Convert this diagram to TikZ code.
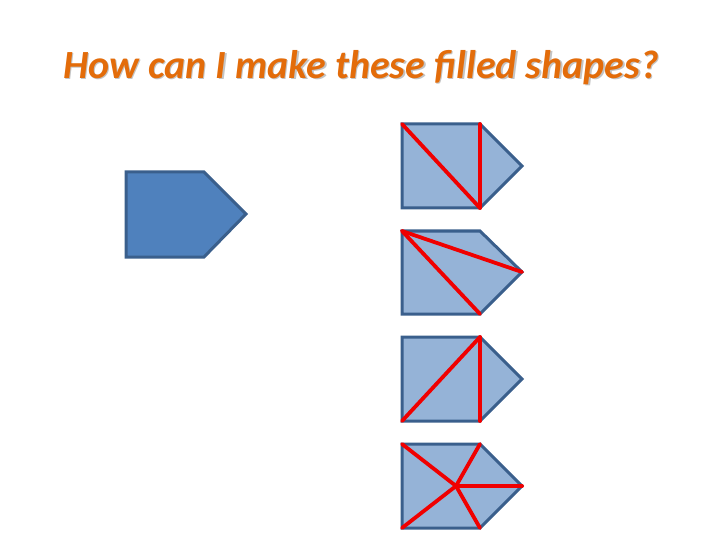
\documentclass[tikz,border=0pt]{standalone}
\usepackage{fontspec}
\setmainfont{Carlito}
\definecolor{titleorange}{HTML}{E36C0A}
\definecolor{shadowgray}{HTML}{C4C4C4}
\definecolor{darkblue}{HTML}{4F81BD}
\definecolor{lightblue}{HTML}{95B3D7}
\definecolor{edgeblue}{HTML}{3A5F8C}
\definecolor{cutred}{HTML}{F00000}
\newcommand{\titletext}{How can I make these filled shapes?}
\begin{document}
\begin{tikzpicture}[x=1pt,y=-1pt,
  darkpent/.style={fill=darkblue,draw=edgeblue,line width=3pt,line join=miter},
  lightpent/.style={fill=lightblue,draw=edgeblue,line width=3pt,line join=miter},
  cut/.style={draw=cutred,line width=3.8pt,line cap=round}]
\useasboundingbox (0,0) rectangle (720,540);
% title with shadow
\node[text=titleorange,font=\fontsize{40}{44}\selectfont\bfseries\itshape] (title) at (361,68)
  {\makebox[0pt][l]{\kern1.6pt\raisebox{-1.6pt}{\color{shadowgray}\titletext}}\titletext};
% left pentagon
\draw[darkpent] (126,172) -- (204,172) -- (246,214) -- (204,257) -- (126,257) -- cycle;
% right pentagons
\foreach \n/\t/\m/\b in {1/124/166/208, 2/231/272/314, 3/337/379/421, 4/444/486/528}{
  \coordinate (tl\n) at (402,\t);
  \coordinate (tc\n) at (480,\t);
  \coordinate (tip\n) at (522,\m);
  \coordinate (bc\n) at (480,\b);
  \coordinate (bl\n) at (402,\b);
  \draw[lightpent] (tl\n) -- (tc\n) -- (tip\n) -- (bc\n) -- (bl\n) -- cycle;
}
% cuts
\draw[cut] (tl1) -- (bc1);
\draw[cut] (tc1) -- (bc1);
\draw[cut] (tl2) -- (tip2);
\draw[cut] (tl2) -- (bc2);
\draw[cut] (bl3) -- (tc3);
\draw[cut] (tc3) -- (bc3);
\coordinate (ctr4) at (456,486);
\draw[cut] (ctr4) -- (tl4);
\draw[cut] (ctr4) -- (bl4);
\draw[cut] (ctr4) -- (tc4);
\draw[cut] (ctr4) -- (bc4);
\draw[cut] (ctr4) -- (tip4);
\end{tikzpicture}
\end{document}
